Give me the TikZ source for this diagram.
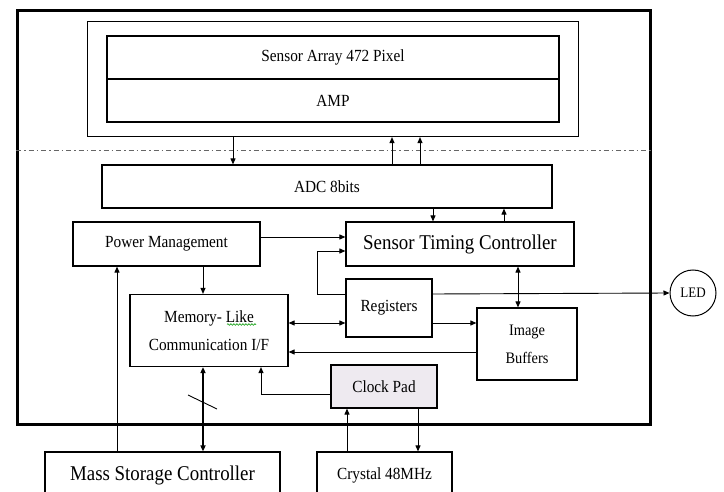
\documentclass[tikz,border=0pt]{standalone}
\usepackage{fontspec}
\setmainfont{Liberation Serif}[FakeStretch=0.9]
\usetikzlibrary{arrows.meta,decorations.pathmorphing}
\begin{document}
\begin{tikzpicture}[x=1pt,y=-1pt,
  box/.style={draw, line width=1.2pt, inner sep=0pt, align=center, font=\fontsize{17}{28}\selectfont},
  bigtext/.style={font=\fontsize{21}{24}\selectfont},
  conn/.style={line width=0.9pt},
  tipend/.style={-{Triangle[length=6pt,width=5pt]}},
  tipboth/.style={{Triangle[length=6pt,width=5pt]}-{Triangle[length=6pt,width=5pt]}}]
\useasboundingbox (0,0) rectangle (724,492);
\clip (0,0) rectangle (724,492);
\fill[white] (0,0) rectangle (724,492);
% helper coordinates
\coordinate (x117) at (117,0);
\coordinate (x203) at (203,0);
\coordinate (x233) at (233,0);
\coordinate (x347) at (347,0);
\coordinate (x392) at (392,0);
\coordinate (x418) at (418,0);
\coordinate (x420) at (420,0);
\coordinate (x433) at (433,0);
\coordinate (x504) at (504,0);
\coordinate (x518) at (518,0);
\coordinate (x261) at (261,0);
\coordinate (y237) at (0,237);
\coordinate (y294) at (0,294);
\coordinate (y323) at (0,323);
\coordinate (y352) at (0,352);
\coordinate (y394) at (0,394);
\coordinate (k1) at (317,251);
% chip outline
\node[draw, line width=2.8pt, minimum width=633, minimum height=414, anchor=north west, inner sep=0pt] (chip) at (16,9) {};
\draw[gray!80!black, line width=0.8pt, dash pattern=on 5pt off 3pt on 1.5pt off 3pt] (chip.west |- 0,150) coordinate (dl) -- (chip.east |- dl);
% sensor block
\node[box, minimum width=491, minimum height=115] (sens) at (333,79) {};
\node[box, minimum width=452, minimum height=43] (arr) at (333,57.5) {Sensor Array 472 Pixel};
\node[box, minimum width=452, minimum height=43] (amp) at (333,100.5) {AMP};
% blocks
\node[box, minimum width=450, minimum height=43] (adc) at (327,186.5) {ADC 8bits};
\node[box, minimum width=187, minimum height=44] (pm) at (166.5,244) {Power Management};
\node[box, bigtext, minimum width=228, minimum height=44] (stc) at (460,244) {Sensor Timing Controller};
\node[box, minimum width=86, minimum height=58] (reg) at (389,308) {Registers};
\node[box, minimum width=158, minimum height=72] (mem) at (209,330.5) {Memory- Like\\Communication I/F};
\node[box, font=\fontsize{16}{28}\selectfont, minimum width=100, minimum height=72] (ib) at (527,344) {Image\\Buffers};
\node[box, fill={rgb,255:red,238;green,234;blue,240}, minimum width=106, minimum height=43] (clk) at (384,386.5) {Clock Pad};
\node[draw, circle, line width=1pt, minimum size=46, inner sep=0pt, font=\fontsize{14.5}{16}\selectfont] (led) at (693,293) {LED};
\node[box, bigtext, minimum width=235, minimum height=46] (msc) at (162.5,475) {Mass Storage Controller};
\node[box, minimum width=135, minimum height=46] (xtal) at (384.5,475) {Crystal 48MHz};
% spell-check squiggle
\draw[green!60!black, line width=0.6pt, decorate, decoration={snake, amplitude=0.8pt, segment length=3pt}] (227,324.5) -- (256,324.5);
% connectors
\draw[conn, tipend] (x233 |- sens.south) -- (x233 |- adc.north);
\draw[conn, tipend] (x392 |- adc.north) -- (x392 |- sens.south);
\draw[conn, tipend] (x420 |- adc.north) -- (x420 |- sens.south);
\draw[conn, tipend] (x433 |- adc.south) -- (x433 |- stc.north);
\draw[conn, tipend] (x504 |- stc.north) -- (x504 |- adc.south);
\draw[conn, tipend] (pm.east |- y237) -- (stc.west |- y237);
\draw[conn, tipend] (reg.west |- y294) -| (k1) -- (stc.west |- k1);
\draw[conn, tipend] (reg.east |- y294) -- (led.west);
\draw[conn, tipboth] (x518 |- stc.south) -- (x518 |- ib.north);
\draw[conn, tipend] (reg.east |- y323) -- (ib.west |- y323);
\draw[conn, tipboth] (mem.east |- y323) -- (reg.west |- y323);
\draw[conn, tipend] (ib.west |- y352) -- (mem.east |- y352);
\draw[conn, tipend] (x203 |- pm.south) -- (x203 |- mem.north);
\draw[conn, tipend] (x117 |- msc.north) -- (x117 |- pm.south);
\draw[line width=2.2pt, tipboth] (x203 |- mem.south) -- (x203 |- msc.north);
\draw[conn] (188,395) coordinate (s1) -- (217,409) coordinate (s2);
\draw[conn, tipend] (clk.west |- y394) -| (x261 |- mem.south);
\draw[conn, tipend] (x347 |- xtal.north) -- (x347 |- clk.south);
\draw[conn, tipend] (x418 |- clk.south) -- (x418 |- xtal.north);
\end{tikzpicture}
\end{document}
